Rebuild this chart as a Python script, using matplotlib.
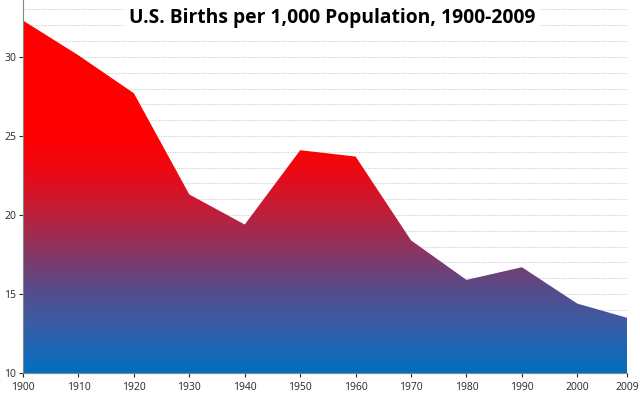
import matplotlib.pyplot as plt
import numpy as np
from matplotlib.colors import LinearSegmentedColormap
from matplotlib.patches import Polygon

years = [1900, 1910, 1920, 1930, 1940, 1950, 1960, 1970, 1980, 1990, 2000, 2009]
births = [32.3, 30.1, 27.7, 21.3, 19.4, 24.1, 23.7, 18.4, 15.9, 16.7, 14.4, 13.5]
x_ticks = [1900, 1910, 1920, 1930, 1940, 1950, 1960, 1970, 1980, 1990, 2000, 2009]
y_ticks = [10, 15, 20, 25, 30]

plt.rcParams['font.family'] = ['Open Sans', 'DejaVu Sans']

fig = plt.figure(figsize=(6.4, 3.97), dpi=100)
ax = fig.add_axes([0.036, 0.06, 0.944, 0.94])

ymin, ymax = 10, 33.6
xmin, xmax = 1900, 2009

# dotted gridlines every unit
for v in range(11, 34):
    ax.axhline(v, color='#CFCFCF', linestyle=(0, (1, 1)), linewidth=0.8, zorder=1)

# gradient fill clipped to the area
stops = [(0.0, '#0070C0'), (0.13, '#3A5CA6'), (0.22, '#554C8A'),
         (0.33, '#8C3460'), (0.44, '#C41C36'), (0.55, '#EE0810'),
         (0.64, '#FF0000'), (1.0, '#FF0000')]
cmap = LinearSegmentedColormap.from_list('births', stops)
grad = np.linspace(0, 1, 256).reshape(-1, 1)
img = ax.imshow(grad, cmap=cmap, origin='lower', aspect='auto',
                extent=[xmin, xmax, ymin, ymax], zorder=2)
verts = [(xmin, ymin)] + list(zip(years, births)) + [(xmax, ymin)]
poly = Polygon(verts, closed=True, facecolor='none', edgecolor='none')
ax.add_patch(poly)
img.set_clip_path(poly)

ax.set_xlim(xmin, xmax)
ax.set_ylim(ymin, ymax)
ax.set_xticks(x_ticks)
ax.set_yticks(y_ticks)
ax.tick_params(axis='both', labelsize=7.5, colors='#262626', length=3, width=0.8)
ax.tick_params(axis='y', length=3, pad=2)
for s in ['top', 'right']:
    ax.spines[s].set_visible(False)
for s in ['left', 'bottom']:
    ax.spines[s].set_color('#868686')

fig.text(0.519, 0.955, 'U.S. Births per 1,000 Population, 1900-2009',
         ha='center', va='center', fontsize=13.9, fontweight='bold', color='#000000',
         bbox=dict(boxstyle='square,pad=0.25', fc='white', ec='none'))

fig.savefig('out.png', dpi=100)
